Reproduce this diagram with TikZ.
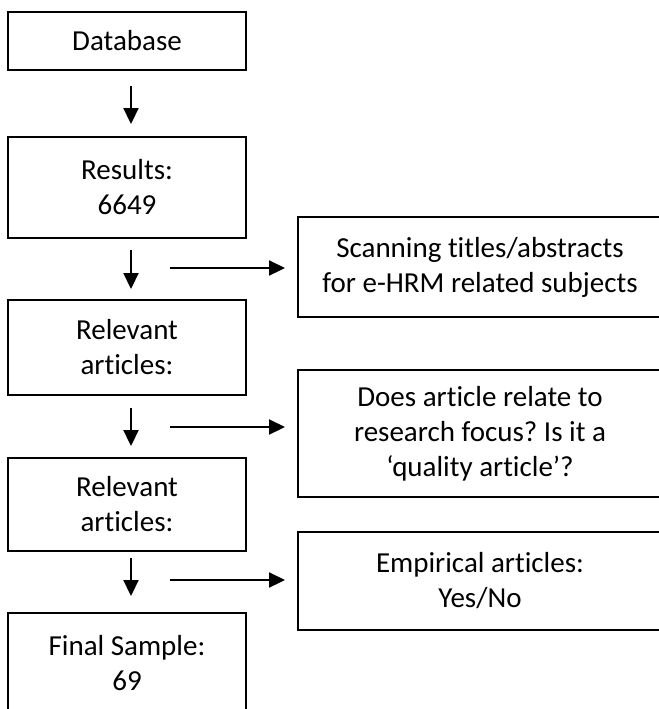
\documentclass[tikz,border=0pt]{standalone}
\usepackage{fontspec}
\setmainfont[Ligatures={NoCommon}]{Carlito}
\usetikzlibrary{arrows.meta}
\frenchspacing

\begin{document}
\begin{tikzpicture}[x=0.5pt,y=-0.5pt,font=\fontsize{14.5}{17.5}\selectfont,
  stagebox/.style={draw,line width=1pt,align=center,minimum width=119pt,inner sep=0pt},
  filterbox/.style={draw,line width=1pt,align=center,minimum width=182pt,inner sep=0pt},
  flow/.style={line width=1.1pt,-{Triangle[length=8pt,width=7.5pt]}}]
\useasboundingbox (0,0) rectangle (659,709);
\clip (0,0) rectangle (659,709);
% main stages
\node[stagebox,minimum height=29pt] (db) at (127,41) {Database};
\node[stagebox,minimum height=50.5pt] (res) at (127,187.5) {Results:\\6649};
\node[stagebox,minimum height=47.5pt] (relA) at (127,347.5) {Relevant\\articles:};
\node[stagebox,minimum height=46.5pt] (relB) at (127,504.5) {Relevant\\articles:};
\node[stagebox,minimum height=50pt] (fin) at (127,663) {Final Sample:\\69};
% screening steps
\node[filterbox,minimum height=50pt] (scan) at (480,267) {Scanning titles/abstracts\\for e-HRM related subjects};
\node[filterbox,minimum height=63.5pt] (focus) at (480,433.5) {Does article relate to\\research focus? Is it a\\‘quality article’?};
\node[filterbox,minimum height=49pt] (emp) at (480,581) {Empirical articles:\\Yes/No};
\draw[flow,shorten <=7.5pt,shorten >=6pt] ([xshift=2pt]db.south) -- ([xshift=2pt]res.north);
\draw[flow,shorten <=5.5pt,shorten >=5pt] ([xshift=2pt]res.south) -- ([xshift=2pt]relA.north);
\draw[flow,shorten <=6pt,shorten >=5.5pt] ([xshift=2pt]relA.south) -- ([xshift=2pt]relB.north);
\draw[flow,shorten <=3pt,shorten >=8pt] ([xshift=2pt]relB.south) -- ([xshift=2pt]fin.north);
\coordinate (h1) at (170,268);
\coordinate (h2) at (170,427);
\coordinate (h3) at (170,580);
\draw[flow,shorten >=6pt] (h1) -- (h1 -| scan.west);
\draw[flow,shorten >=6pt] (h2) -- (h2 -| focus.west);
\draw[flow,shorten >=6pt] (h3) -- (h3 -| emp.west);
\end{tikzpicture}
\end{document}
